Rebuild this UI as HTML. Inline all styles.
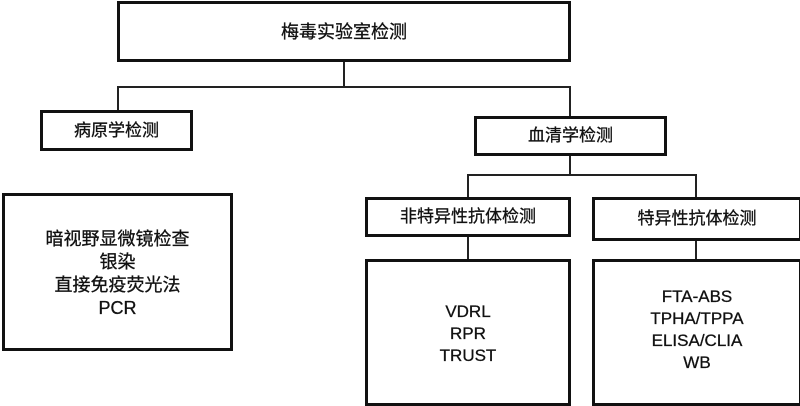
<!DOCTYPE html>
<html><head><meta charset="utf-8"><style>
body{margin:0;width:800px;height:406px;background:#fff;position:relative;overflow:hidden;font-family:"Liberation Sans","Noto Sans CJK SC",sans-serif;color:#111}
.b{position:absolute;box-sizing:border-box;border:3px solid #111;background:#fff;display:flex;align-items:center;justify-content:center;text-align:center;font-size:17px;line-height:22px;-webkit-text-stroke:0.3px #111}
.l{position:absolute;background:#222}
</style></head><body>
<div class="l" style="left:343px;top:61px;width:2px;height:26px"></div>
<div class="l" style="left:117px;top:86px;width:454px;height:2px"></div>
<div class="l" style="left:117px;top:86px;width:2px;height:25px"></div>
<div class="l" style="left:569px;top:86px;width:2px;height:31px"></div>
<div class="l" style="left:569px;top:155px;width:2px;height:20px"></div>
<div class="l" style="left:467px;top:174px;width:230px;height:2px"></div>
<div class="l" style="left:467px;top:174px;width:2px;height:24px"></div>
<div class="l" style="left:695px;top:174px;width:2px;height:24px"></div>
<div class="l" style="left:467px;top:236px;width:2px;height:25px"></div>
<div class="l" style="left:695px;top:240px;width:2px;height:21px"></div>

<div class="b" style="left:117px;top:1px;width:454px;height:61px;font-size:18px">梅毒实验室检测</div>
<div class="b" style="left:40px;top:110px;width:153px;height:41px">病原学检测</div>
<div class="b" style="left:474px;top:116px;width:193px;height:40px">血清学检测</div>
<div class="b" style="left:365px;top:197px;width:206px;height:40px">非特异性抗体检测</div>
<div class="b" style="left:592px;top:197px;width:210px;height:44px">特异性抗体检测</div>
<div class="b" style="left:2px;top:193px;width:231px;height:158px;font-size:18px;line-height:23px;padding-top:4px">暗视野显微镜检查<br>银染<br>直接免疫荧光法<br>PCR</div>
<div class="b" style="left:365px;top:259px;width:206px;height:147px;padding-top:2px">VDRL<br>RPR<br>TRUST</div>
<div class="b" style="left:592px;top:259px;width:210px;height:147px;padding-bottom:6px">FTA-ABS<br>TPHA/TPPA<br>ELISA/CLIA<br>WB</div>
</body></html>
